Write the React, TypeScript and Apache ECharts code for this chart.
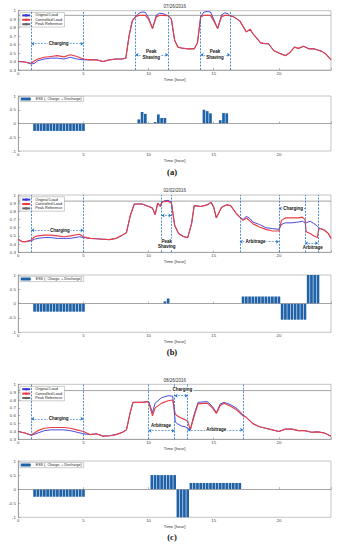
import React, { useEffect, useRef } from "react";
import * as echarts from "echarts";

// ---------------- Panel (a) 07/26/2016 ----------------
const titleA = "07/26/2016";
const timeA = [0, 0.5, 1, 1.25, 1.5, 2, 2.5, 3, 3.5, 4, 4.5, 5, 5.5, 6, 6.5, 7, 7.5, 8, 8.25, 8.5, 8.75, 9, 9.25, 9.5, 9.75, 10, 10.3, 10.6, 10.85, 11.1, 11.5, 11.75, 12, 12.25, 12.5, 13, 13.5, 13.75, 14, 14.25, 14.5, 14.75, 15, 15.3, 15.6, 15.85, 16.1, 16.25, 16.5, 17, 17.5, 17.8, 18, 18.6, 19, 19.2, 19.6, 20, 20.5, 20.8, 21.2, 21.5, 21.9, 22.3, 22.7, 23.1, 23.3, 23.6, 24];
const originalA = [
  0.40, 0.395, 0.37, 0.38, 0.41,
  0.43, 0.44, 0.44, 0.43, 0.45,
  0.43, 0.42, 0.42, 0.42, 0.40,
  0.42, 0.43, 0.43, 0.44, 0.70,
  0.88, 0.93, 0.97, 0.985, 0.98,
  0.92, 0.79, 0.95, 0.97, 0.965,
  0.94, 0.90, 0.65, 0.57, 0.56,
  0.55, 0.55, 0.62, 0.93, 0.985,
  0.99, 0.985, 0.90, 0.79, 0.95,
  0.975, 0.965, 0.94, 0.93, 0.88,
  0.75, 0.78, 0.73, 0.62, 0.61,
  0.61, 0.53, 0.50, 0.47, 0.50,
  0.57, 0.555, 0.58, 0.55, 0.55,
  0.53, 0.52, 0.49, 0.42,
];
const controlledA = [
  0.40, 0.395, 0.38, 0.41, 0.43,
  0.45, 0.46, 0.47, 0.455, 0.48,
  0.46, 0.43, 0.42, 0.42, 0.40,
  0.42, 0.43, 0.43, 0.44, 0.70,
  0.88, 0.93, 0.945, 0.945, 0.945,
  0.90, 0.79, 0.93, 0.945, 0.945,
  0.94, 0.90, 0.65, 0.57, 0.56,
  0.55, 0.55, 0.62, 0.93, 0.945,
  0.945, 0.945, 0.88, 0.79, 0.93,
  0.945, 0.945, 0.94, 0.93, 0.88,
  0.75, 0.78, 0.73, 0.62, 0.61,
  0.61, 0.53, 0.50, 0.47, 0.50,
  0.57, 0.555, 0.58, 0.55, 0.55,
  0.53, 0.52, 0.49, 0.42,
];
const peakRefA = 0.945;
const boundsA = [1, 5, 9, 11.5, 14, 16.25];
const arrowsA = [[1, 5, 0.61], [9, 11.5, 0.48], [14, 16.25, 0.48]];
const textsA: [string, number, number][] = [["Charging", 3.1, 0.61], ["Peak\nShaving", 10.2, 0.48], ["Peak\nShaving", 15.1, 0.48]];
const essTimeA = [1.25, 1.5, 1.75, 2, 2.25, 2.5, 2.75, 3, 3.25, 3.5, 3.75, 4, 4.25, 4.5, 4.75, 5, 9.25, 9.5, 9.75, 10.5, 10.75, 11, 11.25, 14.25, 14.5, 14.75, 15.5, 15.75, 16];
const essValueA = [-0.27, -0.27, -0.27, -0.27, -0.27, -0.27, -0.27, -0.27, -0.27, -0.27, -0.27, -0.27, -0.27, -0.27, -0.27, -0.27, 0.15, 0.42, 0.35, 0.05, 0.33, 0.2, 0.2, 0.5, 0.45, 0.37, 0.12, 0.38, 0.37];

// ---------------- Panel (b) 02/02/2016 ----------------
const titleB = "02/02/2016";
const timeB = [0, 0.3, 0.6, 1, 1.25, 1.5, 2, 2.5, 3, 3.5, 4, 4.7, 5, 5.5, 6, 6.5, 7, 7.5, 8, 8.3, 8.6, 8.9, 9.5, 10, 10.3, 10.5, 10.7, 10.9, 11, 11.25, 11.5, 11.75, 12, 12.3, 12.7, 13, 13.3, 13.5, 14, 14.5, 14.8, 15, 15.2, 15.6, 16, 16.3, 16.7, 17, 17.25, 17.5, 17.8, 18, 18.5, 19, 19.5, 20, 20.2, 20.5, 21, 21.5, 21.8, 22, 22.1, 22.4, 22.7, 22.95, 23.05, 23.2, 23.5, 23.8, 24];
const originalB = [
  0.46, 0.43, 0.43, 0.44, 0.46,
  0.47, 0.48, 0.48, 0.47, 0.47,
  0.47, 0.49, 0.48, 0.47, 0.465,
  0.46, 0.455, 0.47, 0.51, 0.54,
  0.75, 0.89, 0.89, 0.86, 0.84,
  0.76, 0.90, 0.86, 0.91, 0.93,
  0.935, 0.91, 0.63, 0.53, 0.49,
  0.48, 0.65, 0.87, 0.86, 0.88,
  0.91, 0.85, 0.72, 0.85, 0.88,
  0.87, 0.78, 0.73, 0.70, 0.74,
  0.71, 0.67, 0.64, 0.60, 0.59,
  0.58, 0.64, 0.66, 0.66, 0.67,
  0.68, 0.66, 0.66, 0.68, 0.65,
  0.62, 0.60, 0.59, 0.57, 0.53,
  0.47,
];
const controlledB = [
  0.46, 0.43, 0.43, 0.45, 0.49,
  0.50, 0.51, 0.51, 0.50, 0.49,
  0.50, 0.52, 0.49, 0.47, 0.465,
  0.46, 0.455, 0.47, 0.51, 0.54,
  0.75, 0.89, 0.89, 0.86, 0.84,
  0.76, 0.90, 0.86, 0.91, 0.92,
  0.925, 0.90, 0.63, 0.53, 0.49,
  0.48, 0.65, 0.87, 0.86, 0.88,
  0.91, 0.85, 0.72, 0.85, 0.88,
  0.87, 0.78, 0.73, 0.69, 0.72,
  0.68, 0.65, 0.61, 0.58, 0.56,
  0.56, 0.69, 0.72, 0.72, 0.72,
  0.73, 0.70, 0.55, 0.53, 0.50,
  0.48, 0.58, 0.59, 0.57, 0.53,
  0.47,
];
const peakRefB = 0.925;
const boundsB = [1, 5, 11, 11.75, 17, 20, 22, 23];
const arrowsB = [[1, 5, 0.57], [11, 11.75, 0.75], [17, 20, 0.43], [20, 22, 0.835], [22, 23, 0.41]];
const textsB: [string, number, number][] = [["Charging", 3.2, 0.57], ["Peak\nShaving", 11.4, 0.4], ["Arbitrage", 18.2, 0.43], ["Charging", 21.1, 0.835], ["Arbitrage", 22.6, 0.36]];
const essTimeB = [1.25, 1.5, 1.75, 2, 2.25, 2.5, 2.75, 3, 3.25, 3.5, 3.75, 4, 4.25, 4.5, 4.75, 5, 11.25, 11.5, 17.25, 17.5, 17.75, 18, 18.25, 18.5, 18.75, 19, 19.25, 19.5, 19.75, 20, 20.25, 20.5, 20.75, 21, 21.25, 21.5, 21.75, 22, 22.25, 22.5, 22.75, 23];
const essValueB = [-0.28, -0.28, -0.28, -0.28, -0.28, -0.28, -0.28, -0.28, -0.28, -0.28, -0.28, -0.28, -0.28, -0.28, -0.28, -0.28, 0.08, 0.18, 0.25, 0.25, 0.25, 0.25, 0.25, 0.25, 0.25, 0.25, 0.25, 0.25, 0.25, 0.25, -0.56, -0.56, -0.56, -0.56, -0.56, -0.56, -0.56, -0.56, 1, 1, 1, 1];

// ---------------- Panel (c) 08/26/2016 ----------------
const titleC = "08/26/2016";
const timeC = [0, 0.5, 1, 1.5, 2, 2.5, 3, 3.5, 4, 4.5, 5, 5.5, 6, 6.5, 7, 7.5, 8, 8.3, 8.6, 8.8, 9.5, 10, 10.3, 10.5, 11, 11.5, 11.85, 12.05, 12.2, 12.5, 12.8, 13, 13.2, 13.5, 13.8, 14.5, 14.9, 15.2, 15.5, 15.8, 16.3, 16.8, 17.25, 17.5, 18, 18.5, 19, 19.5, 20, 20.5, 21, 21.5, 22, 22.5, 23, 23.5, 24];
const originalC = [
  0.40, 0.38, 0.35, 0.38, 0.41,
  0.42, 0.42, 0.42, 0.41, 0.39,
  0.37, 0.36, 0.37, 0.34, 0.345,
  0.36, 0.39, 0.42, 0.65, 0.77,
  0.77, 0.78, 0.64, 0.76, 0.83,
  0.855, 0.85, 0.52, 0.50, 0.47,
  0.46, 0.44, 0.42, 0.62, 0.77,
  0.78, 0.72, 0.64, 0.75, 0.77,
  0.74, 0.69, 0.61, 0.58, 0.50,
  0.46, 0.44, 0.42, 0.40, 0.43,
  0.43, 0.41, 0.41, 0.39, 0.395,
  0.38, 0.34,
];
const controlledC = [
  0.40, 0.38, 0.355, 0.41, 0.44,
  0.45, 0.45, 0.45, 0.44, 0.42,
  0.40, 0.36, 0.37, 0.34, 0.345,
  0.36, 0.39, 0.42, 0.65, 0.77,
  0.77, 0.78, 0.60, 0.70, 0.76,
  0.79, 0.80, 0.62, 0.60, 0.57,
  0.55, 0.53, 0.42, 0.60, 0.75,
  0.76, 0.70, 0.63, 0.73, 0.76,
  0.72, 0.67, 0.60, 0.58, 0.50,
  0.46, 0.44, 0.42, 0.40, 0.43,
  0.43, 0.41, 0.41, 0.39, 0.395,
  0.38, 0.34,
];
const peakRefC = 0.92;
const boundsC = [1, 5, 10, 12, 13, 17.25];
const arrowsC = [[1, 5, 0.56], [10, 12, 0.41], [12, 13, 0.855], [13, 17.25, 0.42]];
const textsC: [string, number, number][] = [["Charging", 3.1, 0.56], ["Arbitrage", 10.95, 0.47], ["Charging", 12.6, 0.93], ["Arbitrage", 15.2, 0.42]];
const essTimeC = [1.25, 1.5, 1.75, 2, 2.25, 2.5, 2.75, 3, 3.25, 3.5, 3.75, 4, 4.25, 4.5, 4.75, 5, 10.25, 10.5, 10.75, 11, 11.25, 11.5, 11.75, 12, 12.25, 12.5, 12.75, 13, 13.25, 13.5, 13.75, 14, 14.25, 14.5, 14.75, 15, 15.25, 15.5, 15.75, 16, 16.25, 16.5, 16.75, 17];
const essValueC = [-0.27, -0.27, -0.27, -0.27, -0.27, -0.27, -0.27, -0.27, -0.27, -0.27, -0.27, -0.27, -0.27, -0.27, -0.27, -0.27, 0.5, 0.5, 0.5, 0.5, 0.5, 0.5, 0.5, 0.5, -1, -1, -1, -1, 0.22, 0.22, 0.22, 0.22, 0.22, 0.22, 0.22, 0.22, 0.22, 0.22, 0.22, 0.22, 0.22, 0.22, 0.22, 0.22];

const seriesNames = ["Original Load", "Controlled Load", "Peak Reference"];
const essName = "ESS (- Charge, + Discharge)";
const xLabel = "Time [hour]";
const panelLabels = ["(a)", "(b)", "(c)"];

// ---------------- styles ----------------
const FONT = "Liberation Sans, Arial, sans-serif";
const BLUE = "#3535d6";
const RED = "#e53e45";
const GRAY = "#666";
const BAR = "#1f62a8";
const DASH = "#1f6fc4";
const LEFT = 18.3;
const WIDTH = 312.7;
const gridTops = [10.7, 96, 195, 275, 384.3, 461];
const gridHeights = [59.3, 55, 57.3, 57.3, 55, 56.3];
const lineLegendTops = [12.6, 196.8, 386.4];
const barLegendTops = [96.4, 276.4, 462.5];
const titleYs = [6.7, 190.8, 380.2];
const panelLabelYs = [171.8, 351.8, 536.8];

function App() {
  const ref = useRef<HTMLDivElement>(null);
  useEffect(() => {
    if (!ref.current) return;
    const chart = echarts.init(ref.current, undefined, { renderer: "svg" });

    const panels = [
      { time: timeA, orig: originalA, ctrl: controlledA, peak: peakRefA, bounds: boundsA, arrows: arrowsA, texts: textsA, essT: essTimeA, essV: essValueA, title: titleA },
      { time: timeB, orig: originalB, ctrl: controlledB, peak: peakRefB, bounds: boundsB, arrows: arrowsB, texts: textsB, essT: essTimeB, essV: essValueB, title: titleB },
      { time: timeC, orig: originalC, ctrl: controlledC, peak: peakRefC, bounds: boundsC, arrows: arrowsC, texts: textsC, essT: essTimeC, essV: essValueC, title: titleC },
    ];

    const grid: any[] = [];
    const xAxis: any[] = [];
    const yAxis: any[] = [];
    const series: any[] = [];
    const legend: any[] = [];
    const graphic: any[] = [];

    const axisCommon = {
      axisLine: { show: true, lineStyle: { color: "#777", width: 0.5 } },
      axisTick: { show: true, inside: true, length: 2, lineStyle: { color: "#777", width: 0.5 } },
      splitLine: { show: false },
    };

    for (let g = 0; g < 6; g++) {
      const isBar = g % 2 === 1;
      grid.push({ left: LEFT, width: WIDTH, top: gridTops[g], height: gridHeights[g], show: true, borderColor: "#888", borderWidth: 0.5, backgroundColor: "#fff", containLabel: false });
      xAxis.push({
        gridIndex: g, type: "value", min: 0, max: 24, interval: 5, ...axisCommon,
        axisLabel: { fontSize: 4.3, color: "#444", margin: 1.5, fontFamily: FONT, formatter: (v: number) => (v % 5 === 0 ? String(v) : "") },
        name: xLabel, nameLocation: "middle", nameGap: 7, nameTextStyle: { fontSize: 4.3, color: "#333", fontFamily: FONT },
      });
      yAxis.push({
        gridIndex: g, type: "value", ...axisCommon,
        min: isBar ? -1 : 0.3, max: 1, interval: isBar ? 0.5 : 0.1,
        axisLabel: { fontSize: 4.3, color: "#444", margin: 2.5, fontFamily: FONT },
      });
    }

    panels.forEach((p, i) => {
      const gl = i * 2;
      const gb = i * 2 + 1;
      series.push({
        type: "line", name: seriesNames[0], xAxisIndex: gl, yAxisIndex: gl,
        data: p.time.map((t, k) => [t, p.orig[k]]), symbol: "none", showSymbol: false,
        lineStyle: { color: BLUE, width: 0.9 }, itemStyle: { color: BLUE }, z: 3,
        markLine: {
          silent: true, symbol: ["arrow", "arrow"], symbolSize: 3,
          lineStyle: { color: DASH, width: 0.6, type: [2, 1.2] }, label: { show: false },
          data: p.arrows.map((a) => [{ coord: [a[0], a[2]] }, { coord: [a[1], a[2]] }]),
        },
      });
      series.push({
        type: "line", name: seriesNames[1], xAxisIndex: gl, yAxisIndex: gl,
        data: p.time.map((t, k) => [t, p.ctrl[k]]), symbol: "none", showSymbol: false,
        lineStyle: { color: RED, width: 1.15 }, itemStyle: { color: RED }, z: 4,
        markPoint: {
          silent: true, symbol: "rect", symbolSize: 1, itemStyle: { color: "rgba(0,0,0,0)" },
          label: { show: true, position: "inside", formatter: "{b}", fontSize: 4.5, fontWeight: "bold", color: "#111", backgroundColor: "#fff", padding: [0, 1], lineHeight: 5.6, fontFamily: FONT },
          data: p.texts.map((tx) => ({ name: tx[0], coord: [tx[1], tx[2]] })),
        },
      });
      series.push({
        type: "line", name: seriesNames[2], xAxisIndex: gl, yAxisIndex: gl,
        data: [[0, p.peak], [24, p.peak]], symbol: "none", showSymbol: false,
        lineStyle: { color: GRAY, width: 0.6 }, itemStyle: { color: GRAY }, z: 2,
        markLine: {
          silent: true, symbol: "none", label: { show: false },
          lineStyle: { color: DASH, width: 0.8, type: [2, 1.3] },
          data: p.bounds.map((b) => ({ xAxis: b })),
        },
      });
      series.push({
        type: "bar", name: essName, xAxisIndex: gb, yAxisIndex: gb,
        data: p.essT.map((t, k) => [t, p.essV[k]]), barWidth: 2.7,
        itemStyle: { color: BAR },
        markLine: {
          silent: true, symbol: "none", label: { show: false },
          lineStyle: { color: "#999", width: 0.6, type: "solid" },
          data: [{ yAxis: 0 }],
        },
      });
      legend.push({
        data: seriesNames, orient: "vertical", left: 20, top: lineLegendTops[i],
        itemWidth: 8, itemHeight: 3, itemGap: 0.4, padding: [0.8, 2, 0.8, 1.2],
        borderColor: "#999", borderWidth: 0.5, borderRadius: 0, backgroundColor: "#fff",
        textStyle: { fontSize: 3.8, color: "#222", fontFamily: FONT }, selectedMode: false,
      });
      legend.push({
        data: [essName], orient: "vertical", left: 20, top: barLegendTops[i],
        itemWidth: 10, itemHeight: 3, padding: [0.6, 2, 0.6, 0.8],
        borderColor: "#999", borderWidth: 0.5, borderRadius: 0, backgroundColor: "#fff",
        textStyle: { fontSize: 3.6, color: "#222", fontFamily: FONT }, selectedMode: false,
      });
      graphic.push({
        type: "text", x: LEFT + WIDTH / 2, y: titleYs[i],
        style: { text: p.title, fontSize: 4.5, fill: "#333", align: "center", verticalAlign: "middle", fontFamily: FONT },
      });
      graphic.push({
        type: "text", x: 172, y: panelLabelYs[i],
        style: { text: panelLabels[i], fontSize: 8.5, fontWeight: "bold", fill: "#111", align: "center", verticalAlign: "middle", fontFamily: "Liberation Serif, Times New Roman, serif" },
      });
    });

    chart.setOption({
      animation: false,
      backgroundColor: "#fff",
      textStyle: { fontFamily: FONT },
      grid, xAxis, yAxis, series, legend, graphic,
    });
    return () => chart.dispose();
  }, []);
  return <div ref={ref} style={{ position: "absolute", left: 0, top: 0, width: 344, height: 550 }} />;
}

export default App;
